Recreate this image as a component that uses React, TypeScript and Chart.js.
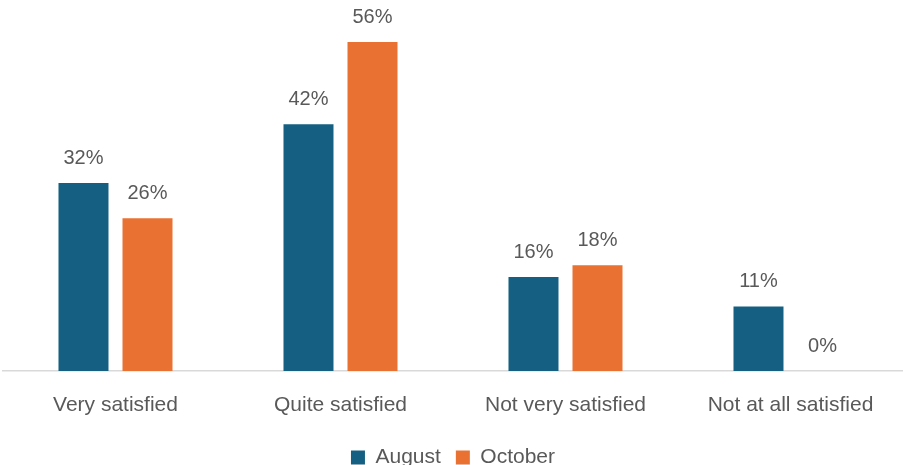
import React, { useEffect, useRef } from "react";
import { Chart, registerables } from "chart.js";

Chart.register(...registerables);

const categories = ["Very satisfied", "Quite satisfied", "Not very satisfied", "Not at all satisfied"];
const augustValues = [32, 42, 16, 11];
const octoberValues = [26, 56, 18, 0];
const seriesNames = ["August", "October"];

const FONT = "'Liberation Sans', Arial, sans-serif";
const TEXT = "#595959";

const valueLabels = {
  id: "valueLabels",
  afterDatasetsDraw(chart: any) {
    const ctx = chart.ctx;
    ctx.save();
    ctx.font = `20px ${FONT}`;
    ctx.fillStyle = TEXT;
    ctx.textAlign = "center";
    ctx.textBaseline = "alphabetic";
    chart.data.datasets.forEach((ds: any, di: number) => {
      const meta = chart.getDatasetMeta(di);
      meta.data.forEach((el: any, i: number) => {
        ctx.fillText(`${ds.data[i]}%`, el.x, el.y - 19);
      });
    });
    ctx.restore();
  },
};

export default function App() {
  const ref = useRef<HTMLCanvasElement>(null);
  useEffect(() => {
    if (!ref.current) return;
    const chart = new Chart(ref.current, {
      type: "bar",
      data: {
        labels: categories,
        datasets: [
          {
            label: seriesNames[0],
            data: augustValues,
            backgroundColor: "#156082",
            categoryPercentage: 0.569,
            barPercentage: 0.78125,
          },
          {
            label: seriesNames[1],
            data: octoberValues,
            backgroundColor: "#E97132",
            categoryPercentage: 0.569,
            barPercentage: 0.78125,
          },
        ],
      },
      options: {
        animation: false,
        responsive: false,
        maintainAspectRatio: false,
        layout: { padding: { left: 3, right: 0, top: 1, bottom: -13 } },
        plugins: {
          tooltip: { enabled: false },
          legend: {
            position: "bottom",
            labels: {
              font: { family: FONT, size: 21 },
              color: TEXT,
              boxWidth: 14,
              boxHeight: 14,
              padding: 15,
            },
          },
        },
        scales: {
          x: {
            grid: { display: false, drawTicks: false },
            border: { display: true, color: "#D9D9D9", width: 1.5 },
            ticks: { font: { family: FONT, size: 21 }, color: TEXT, padding: 22, maxRotation: 0 },
            afterFit: (scale: any) => {
              scale.height = 61;
            },
          },
          y: {
            display: false,
            min: 0,
            max: 63,
          },
        },
      },
      plugins: [valueLabels],
    });
    return () => chart.destroy();
  }, []);
  return (
    <div style={{ position: "fixed", left: 0, top: 0, width: 903, height: 465, background: "#fff" }}>
      <canvas ref={ref} width={903} height={465} style={{ display: "block", width: 903, height: 465 }} />
    </div>
  );
}
